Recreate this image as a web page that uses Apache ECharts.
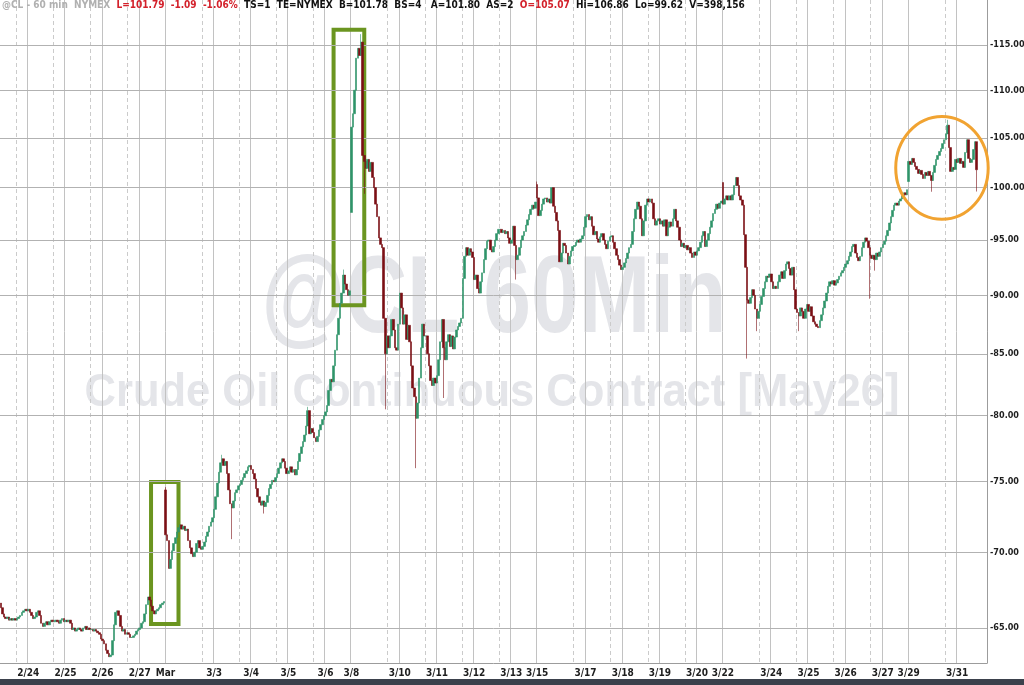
<!DOCTYPE html>
<html><head><meta charset="utf-8">
<script src="https://cdn.jsdelivr.net/npm/echarts@6/dist/echarts.min.js"></script>
<style>html,body{margin:0;padding:0;background:#fff}#c{width:1024px;height:685px}</style>
</head><body><div id="c"></div>
<script>
// ---- DATA: hourly sessions (first value = session open, then hourly closes) ----
const A     = [66.6, 66.3, 65.9, 65.7, 65.6, 65.7, 65.5, 65.6, 65.5, 65.6, 65.5];
const T0224 = [65.5, 65.6, 65.7, 65.8, 66.0, 66.1, 66.2, 66.1, 66.2, 66.0, 65.8, 65.6, 65.7, 66.0, 66.1, 65.8, 65.3, 65.1, 65.3, 65.4, 65.2, 65.4, 65.5, 65.4];
const W0225 = [65.4, 65.4, 65.5, 65.4, 65.3, 65.5, 65.6, 65.4, 65.5, 65.4, 65.5, 65.3, 64.9, 65.0, 64.8, 64.9, 65.0, 64.9, 64.8, 65.0, 65.1, 64.9, 65.0, 64.9];
const H0226 = [64.9, 64.9, 64.8, 64.9, 64.8, 64.7, 64.6, 64.3, 64.2, 64.0, 63.6, 63.4, 63.2, 63.3, 64.2, 65.2, 66.0, 66.1, 65.8, 65.1, 64.8, 64.9, 64.6, 64.7];
const F0227 = [64.7, 64.6, 64.4, 64.4, 64.5, 64.6, 64.8, 64.9, 65.0, 65.3, 65.4, 65.9, 66.5, 67.0, 66.8, 66.4, 66.1, 65.9, 66.1, 66.2, 66.3, 66.5, 66.6, 66.7];
const S0301 = [74.4, 71.2, 70.8, 68.9, 69.5, 70.1, 70.6, 71.0, 71.4, 71.7, 71.9, 71.6, 71.8, 71.5, 71.6, 70.8, 70.3, 69.9, 69.7, 70.0, 70.6, 70.8, 70.3, 70.2];
const T0303 = [70.2, 70.4, 70.7, 71.1, 71.4, 71.8, 72.1, 72.4, 73.0, 73.9, 74.9, 75.7, 76.4, 76.7, 76.2, 76.5, 75.6, 74.4, 73.4, 73.1, 73.6, 74.2, 74.4, 74.7];
const W0304 = [74.7, 74.8, 75.1, 75.3, 75.6, 75.8, 76.1, 76.2, 75.9, 75.6, 75.2, 74.5, 73.9, 73.5, 73.3, 73.6, 73.2, 73.5, 74.0, 74.5, 74.8, 75.1, 75.0, 75.3];
const H0305 = [75.3, 75.6, 76.0, 76.4, 76.7, 76.5, 76.0, 75.6, 75.8, 76.1, 75.7, 75.9, 75.5, 75.9, 76.5, 77.1, 77.6, 78.0, 78.5, 79.2, 80.4, 78.6, 79.0, 78.7];
const F0306 = [78.7, 78.3, 78.0, 78.4, 78.9, 79.3, 79.7, 80.0, 80.3, 80.8, 82.0, 82.9, 82.7, 84.0, 85.3, 86.6, 88.0, 89.3, 90.2, 91.8, 91.0, 90.5, 90.0, 90.4];
const S0308 = [97.6, 106.1, 107.5, 110.0, 113.5, 114.6, 113.8, 115.3, 103.2, 102.6, 101.9, 102.8, 101.6, 102.5, 101.0, 100.0, 98.4, 97.2, 95.2, 94.6, 94.3, 88.0, 85.0, 86.5];
const T0310 = [86.5, 85.5, 86.5, 87.9, 87.0, 85.5, 85.3, 87.5, 90.2, 88.9, 87.5, 88.3, 86.2, 87.4, 86.0, 84.0, 82.2, 81.5, 79.8, 81.0, 83.0, 85.5, 87.5, 86.5];
const W0311 = [86.5, 86.5, 85.0, 84.0, 82.8, 82.4, 83.0, 82.6, 83.2, 84.5, 86.0, 87.9, 85.5, 84.5, 86.0, 86.6, 85.6, 86.5, 85.4, 86.4, 87.0, 87.3, 87.6, 88.0];
const H0312 = [88.0, 91.5, 93.5, 94.3, 93.6, 94.2, 93.9, 93.4, 91.4, 91.8, 90.6, 90.2, 91.2, 92.0, 93.2, 94.2, 94.9, 95.0, 94.1, 93.9, 94.4, 95.0, 95.6, 96.0];
const F0313 = [96.0, 96.0, 95.7, 95.9, 95.6, 95.8, 95.2, 94.7, 95.0, 96.3, 94.5, 93.2, 93.6, 94.3, 95.0, 95.4, 95.8, 96.4, 96.9, 97.4, 97.9, 98.3, 98.0, 98.6];
const S0315 = [100.3, 99.0, 97.3, 97.8, 98.4, 98.9, 99.0, 98.6, 98.9, 98.5, 100.0, 98.2, 97.6, 96.8, 95.9, 93.0, 93.8, 94.7, 94.5, 93.8, 92.8, 93.5, 94.0, 94.4];
const T0317 = [94.4, 94.5, 94.8, 95.0, 94.8, 95.1, 95.4, 96.2, 97.2, 97.4, 96.9, 97.2, 96.3, 95.5, 95.8, 95.1, 94.8, 95.3, 95.6, 95.0, 94.6, 94.2, 94.9, 95.3];
const W0318 = [95.3, 95.4, 94.8, 94.2, 93.6, 93.2, 92.7, 92.3, 92.5, 92.9, 93.3, 93.8, 94.3, 94.6, 95.8, 97.0, 97.9, 98.6, 98.2, 97.0, 95.4, 96.8, 98.3, 98.9];
const H0319 = [98.9, 98.6, 98.9, 98.5, 97.0, 96.4, 96.8, 97.0, 96.5, 96.8, 96.3, 96.9, 95.4, 96.2, 96.7, 96.3, 97.0, 97.9, 96.8, 96.2, 95.0, 94.4, 94.7, 94.3];
const F0320 = [94.3, 94.5, 94.1, 94.3, 93.8, 93.4, 93.9, 93.6, 94.0, 94.3, 94.8, 95.4, 95.8, 94.4, 95.0, 95.6, 96.2, 96.8, 97.5, 97.9, 98.4, 98.0, 98.5, 98.7];
const S0322 = [100.5, 98.4, 98.9, 99.2, 98.8, 99.2, 98.8, 99.3, 100.2, 101.0, 100.2, 99.2, 98.8, 98.3, 95.5, 92.5, 89.6, 89.3, 89.8, 90.5, 90.0, 88.8, 88.0, 88.6];
const T0324 = [88.6, 89.2, 89.9, 90.6, 91.2, 91.7, 91.6, 91.9, 91.2, 90.6, 90.8, 90.6, 91.2, 91.8, 92.1, 91.5, 92.2, 92.8, 93.0, 92.4, 91.8, 92.5, 90.5, 88.8];
const W0325 = [88.8, 88.5, 88.2, 88.9, 88.6, 88.0, 88.8, 89.2, 88.6, 89.0, 88.2, 87.7, 87.5, 87.3, 87.2, 87.8, 88.3, 88.9, 89.5, 90.2, 90.8, 91.2, 91.0, 91.3];
const H0326 = [91.3, 90.9, 91.1, 91.4, 91.7, 92.0, 92.2, 92.5, 92.8, 93.1, 93.5, 93.9, 94.4, 94.6, 93.8, 93.4, 93.1, 93.5, 94.3, 94.8, 95.2, 94.9, 94.3, 93.6];
const F0327 = [93.6, 93.3, 93.6, 93.2, 93.8, 93.5, 93.9, 94.3, 94.6, 94.9, 95.4, 95.9, 96.6, 97.2, 97.8, 98.3, 98.5, 98.3, 98.7, 98.9, 99.2, 99.5, 99.3, 99.8];
const S0329 = [100.6, 102.6, 102.3, 102.9, 102.5, 102.1, 101.8, 101.4, 101.7, 101.3, 100.9, 101.5, 101.2, 101.6, 101.2, 100.7, 101.5, 102.2, 102.8, 103.2, 103.6, 103.9, 104.4, 104.8];
const T0331 = [104.8, 105.4, 106.3, 104.0, 101.6, 102.0, 101.8, 102.8, 102.5, 102.9, 102.4, 102.6, 102.0, 103.5, 104.8, 102.9, 102.5, 102.8, 103.8, 104.6, 101.77];

// notable wicks: [session, bar, low, high]
const wicks = [
  ['S0301',0,null,74.6], ['T0303',12,null,77.0], ['T0303',18,70.9,null], ['W0304',15,72.7,null],
  ['H0305',19,null,80.7], ['F0306',18,null,92.3], ['S0308',6,null,116.2], ['S0308',8,99.4,null],
  ['S0308',21,80.5,null], ['T0310',17,76.0,null], ['W0311',11,81.4,null], ['F0313',10,91.4,null],
  ['S0315',0,null,100.6], ['S0322',15,84.6,null], ['S0322',21,86.9,null], ['W0325',1,86.9,null],
  ['H0326',22,89.7,null], ['F0327',2,92.2,null], ['S0329',14,99.6,null],
  ['T0331',1,null,106.86], ['T0331',19,99.62,null]
];

// sessions: [name, date label, kind] (wk: dashed at 17:00 open, solid + label at midnight; sun: solid + label at open)
const sessionOrder = [
  ['A','','mon'], ['T0224','2/24','wk'], ['W0225','2/25','wk'], ['H0226','2/26','wk'], ['F0227','2/27','wk'],
  ['S0301','Mar','sun'], ['T0303','3/3','wk'], ['W0304','3/4','wk'], ['H0305','3/5','wk'], ['F0306','3/6','wk'],
  ['S0308','3/8','sun'], ['T0310','3/10','wk'], ['W0311','3/11','wk'], ['H0312','3/12','wk'], ['F0313','3/13','wk'],
  ['S0315','3/15','sun'], ['T0317','3/17','wk'], ['W0318','3/18','wk'], ['H0319','3/19','wk'], ['F0320','3/20','wk'],
  ['S0322','3/22','sun'], ['T0324','3/24','wk'], ['W0325','3/25','wk'], ['H0326','3/26','wk'], ['F0327','3/27','wk'],
  ['S0329','3/29','sun'], ['T0331','3/31','wk']
];
const priceTicks = [65, 70, 75, 80, 85, 90, 95, 100, 105, 110, 115];
const lastPrice = 101.77;
const emptySlots = 6;

const sessionData = {A,T0224,W0225,H0226,F0227,S0301,T0303,W0304,H0305,F0306,S0308,T0310,W0311,H0312,F0313,
  S0315,T0317,W0318,H0319,F0320,S0322,T0324,W0325,H0326,F0327,S0329,T0331};

// ---- build ----
const categories = [], candles = [], solid = new Set(), dashed = new Set(), labelAt = {}, startOf = {};
sessionOrder.forEach(([name, label, kind]) => {
  const arr = sessionData[name];
  const start = categories.length;
  startOf[name] = start;
  if (kind === 'wk') { dashed.add(start); solid.add(start + 7); labelAt[start + 7] = label; }
  if (kind === 'sun') { solid.add(start); labelAt[start] = label; }
  let prev = arr[0];
  for (let k = 1; k < arr.length; k++) {
    const o = prev, c = arr[k];
    candles.push([o, c, Math.min(o, c), Math.max(o, c)]);
    categories.push(name + '-' + (k - 1));
    prev = c;
  }
});
wicks.forEach(([s, k, lo, hi]) => {
  const d = candles[startOf[s] + k];
  if (lo != null) d[2] = Math.min(d[2], lo);
  if (hi != null) d[3] = Math.max(d[3], hi);
});
for (let i = 0; i < emptySlots; i++) { categories.push('pad-' + i); candles.push('-'); }

const NARROW = "'Liberation Sans Narrow','Arial Narrow','DejaVu Sans Condensed','Liberation Sans',sans-serif";
const UP = '#2f9469', DOWN = '#7b0f14';

const chart = echarts.init(document.getElementById('c'), null, {renderer: 'canvas'});

function fitScale(text, font, target) {
  const ctx = document.createElement('canvas').getContext('2d');
  ctx.font = font;
  return target / ctx.measureText(text).width;
}
const wm1Font = "bold 110px 'Liberation Sans', sans-serif";
const wm2Font = "bold 46px 'Liberation Sans', sans-serif";
const wm1 = '@CL 60Min', wm2 = 'Crude Oil Continuous Contract [May26]';

chart.setOption({
  animation: false,
  backgroundColor: '#ffffff',
  title: {
    left: 2, top: 0, padding: 0,
    text: '{g|@CL - 60 min  NYMEX}  {r|L=101.79  -1.09  -1.06%}  {k|TS=1  TE=NYMEX  B=101.78  BS=4   A=101.80  AS=2}  {r|O=105.07}  {k|Hi=106.86  Lo=99.62  V=398,156}',
    textStyle: {
      fontSize: 10, fontFamily: NARROW, color: '#111',
      rich: {
        g: {fontSize: 10, fontFamily: NARROW, color: '#b0b0b0'},
        r: {fontSize: 10, fontFamily: NARROW, color: '#d3212b', fontWeight: 'bold'},
        k: {fontSize: 10, fontFamily: NARROW, color: '#111111', fontWeight: 'bold'}
      }
    }
  },
  grid: {left: 0, right: 37, top: 0, bottom: 22, containLabel: false, outerBoundsMode: 'none'},
  xAxis: [
    {
      type: 'category', data: categories, boundaryGap: true,
      axisLine: {show: true, lineStyle: {color: '#9c9c9c', width: 1}},
      axisTick: {show: false},
      axisLabel: {
        interval: (i) => labelAt[i] !== undefined,
        formatter: (v, i) => labelAt[i] || '',
        color: '#1e1e1e', fontSize: 10, fontWeight: 'bold', fontFamily: NARROW, margin: 5,
        hideOverlap: false
      },
      splitLine: {show: true, interval: (i) => solid.has(i), lineStyle: {color: '#c2c2c2', width: 1}}
    },
    {
      type: 'category', data: categories, boundaryGap: true, position: 'top',
      axisLine: {show: false}, axisTick: {show: false}, axisLabel: {show: false},
      splitLine: {show: true, interval: (i) => dashed.has(i), lineStyle: {color: '#cbcbcb', width: 1, type: [4, 3]}}
    }
  ],
  yAxis: {
    type: 'log', logBase: 10, min: 62.81, max: 120.15, position: 'right',
    axisLine: {show: true, lineStyle: {color: '#9c9c9c'}},
    axisTick: {show: false}, axisLabel: {show: false}, splitLine: {show: false}
  },
  series: [
    {
      type: 'line', data: [], z: 1, silent: true,
      markLine: {
        silent: true, symbol: 'none', animation: false,
        lineStyle: {color: '#b2b2b2', type: 'solid', width: 1},
        label: {position: 'end', distance: 3, formatter: (p) => '-' + p.value.toFixed(2),
          color: '#1e1e1e', fontSize: 9, fontWeight: 'bold', fontFamily: NARROW},
        data: priceTicks.map(v => ({yAxis: v}))
      }
    },
    {
      type: 'candlestick', data: candles, z: 5, barWidth: 2, large: false, progressive: 0,
      itemStyle: {color: UP, color0: DOWN, borderColor: UP, borderColor0: DOWN, borderColorDoji: UP, borderWidth: 0.6}
    },
    {
      type: 'line', data: [], z: 10, silent: true,
      markArea: {
        silent: true,
        itemStyle: {color: 'rgba(0,0,0,0)', borderColor: '#6b9520', borderWidth: 4},
        data: [
          [{xAxis: categories[93], yAxis: 74.97}, {xAxis: categories[110], yAxis: 65.25}],
          [{xAxis: categories[206], yAxis: 116.7}, {xAxis: categories[225], yAxis: 89.14}]
        ]
      },
      markLine: {
        silent: true, symbol: 'none', animation: false,
        lineStyle: {opacity: 0},
        label: {position: 'end', distance: 1, formatter: (p) => p.value.toFixed(2),
          color: '#ffffff', backgroundColor: '#8e1616', padding: [2, 3, 1, 2],
          fontSize: 9, fontWeight: 'bold', fontFamily: NARROW},
        data: [{yAxis: lastPrice}]
      }
    }
  ]
});

// orange ellipse around the last sessions, positioned through the scales
const pL = chart.convertToPixel({seriesIndex: 1}, [categories[554], 107.2]);
const pR = chart.convertToPixel({seriesIndex: 1}, [categories[610], 96.95]);
chart.setOption({
  graphic: [
    {type: 'text', z: -10, x: 494, y: 302, scaleX: fitScale(wm1, wm1Font, 465),
      style: {text: wm1, font: wm1Font, fill: '#e4e5e9', textAlign: 'center', textVerticalAlign: 'middle'}},
    {type: 'text', z: -10, x: 492, y: 393, scaleX: fitScale(wm2, wm2Font, 815),
      style: {text: wm2, font: wm2Font, fill: '#e4e5e9', textAlign: 'center', textVerticalAlign: 'middle'}},
    {type: 'rect', z: 50, shape: {x: 0, y: 679, width: 1024, height: 6}, style: {fill: '#3b414c'}},
    {type: 'ellipse', z: 60,
      shape: {cx: (pL[0] + pR[0]) / 2 + 1, cy: (pL[1] + pR[1]) / 2, rx: (pR[0] - pL[0]) / 2 + 1, ry: (pR[1] - pL[1]) / 2},
      style: {fill: 'none', stroke: '#f1a331', lineWidth: 3}}
  ]
});
</script>
</body></html>
